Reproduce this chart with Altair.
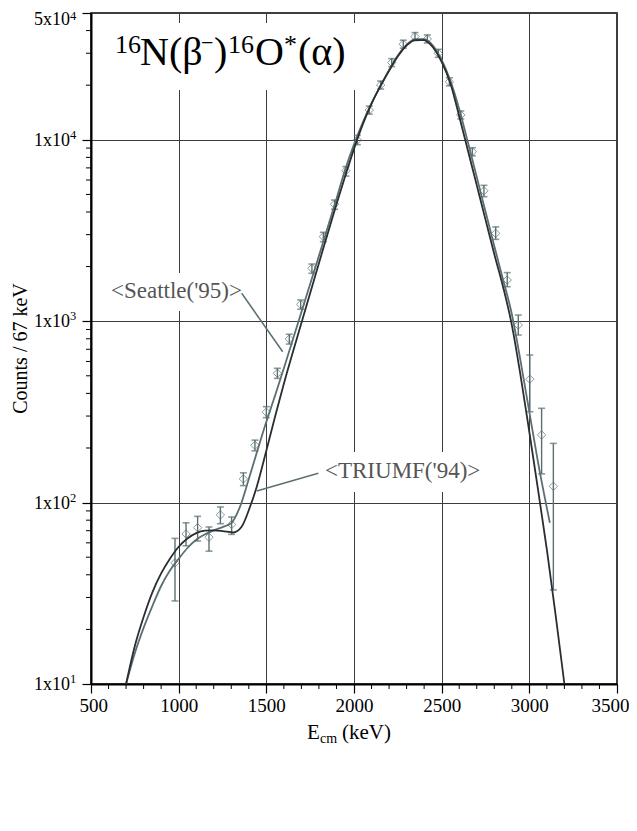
import altair as alt
import pandas as pd

# ---- measured data (16N beta-delayed alpha spectrum) ----
energy = [979, 1042, 1108, 1173, 1238, 1302, 1369, 1435, 1500, 1563, 1631, 1696,
          1760, 1825, 1889, 1954, 2019, 2087, 2152, 2215, 2281, 2348, 2418, 2481,
          2544, 2609, 2675, 2741, 2808, 2874, 2937, 3003, 3070, 3137]
counts = [46.6, 67.2, 72.7, 64.4, 85.5, 75.7, 135, 207, 315, 516, 798, 1239,
          1957, 2926, 4413, 6761, 9977, 14580, 20040, 26650, 33660, 37060, 35970, 29970,
          20880, 13710, 8590, 5236, 3048, 1687, 953, 479, 236, 123]
err_lo = [28.7, 57.8, 61.4, 54, 76.5, 66.8, 124, 193, 294, 484, 748, 1164,
          1836, 2743, 4140, 6310, 9400, 13860, 19050, 25330, 32000, 35230, 34190, 28490,
          19850, 13030, 8160, 4856, 2826, 1549, 839, 317, 144, 33]
err_hi = [63.5, 77.4, 84, 73.4, 94.6, 83.3, 146, 221, 338, 550, 847, 1309,
          2066, 3090, 4656, 7110, 10580, 15340, 21080, 28030, 35410, 39000, 37840, 31530,
          21970, 14420, 9040, 5610, 3311, 1853, 1081, 651, 331, 212]

# ---- R-matrix fits ----
triumf_e = [700, 750, 800, 850, 900, 950, 1000, 1050, 1100, 1150, 1200, 1250, 1311,
            1359, 1407, 1445, 1501, 1550, 1600, 1700, 1800, 1900, 1950, 2000, 2050, 2100,
            2150, 2200, 2250, 2300, 2350, 2400, 2450, 2500, 2550, 2600, 2650, 2700, 2750,
            2800, 2850, 2900, 2950, 3000, 3050, 3100, 3150, 3200]
triumf_c = [10, 16.2, 23.4, 32.0, 40.7, 49.0, 57.1, 63.4, 67.9, 70.0, 70.3, 69.7, 68.4,
            73.6, 94.8, 122, 195, 298, 452, 977, 2089, 4416, 6310, 8913, 12160, 15850,
            19720, 23990, 28840, 33110, 35480, 35480, 32360, 26920, 20420, 13490, 8710, 5623, 3631,
            2344, 1549, 955, 501, 245, 117, 55, 24, 10]
seattle_e = [700, 750, 800, 850, 900, 950, 1000, 1050, 1100, 1150, 1200, 1250, 1300,
             1350, 1400, 1450, 1500, 1550, 1600, 1700, 1800, 1900, 1950, 2000, 2050, 2100,
             2150, 2200, 2250, 2300, 2350, 2400, 2450, 2500, 2550, 2600, 2650, 2700, 2750,
             2800, 2850, 2900, 2950, 3000, 3050, 3117]
seattle_c = [10, 14.8, 20.4, 26.9, 34.7, 42.2, 49.0, 56.2, 62.4, 66.8, 70.3, 73.3, 77.0,
             95.0, 135, 195, 279, 389, 550, 1122, 2291, 4732, 6870, 9441, 12450, 15850,
             19720, 24270, 29170, 33500, 35890, 35890, 33110, 27540, 21130, 14790, 9661, 6237, 4027,
             2600, 1698, 1096, 603, 316, 166, 77.4]

x_ticks = [500, 1000, 1500, 2000, 2500, 3000, 3500]
y_ticks = [10, 100, 1000, 10000]
y_mant = ["1x10", "1x10", "1x10", "1x10"]
y_exp = ["1", "2", "3", "4"]
y_top, y_top_mant, y_top_exp = 50000, "5x10", "4"
x_minor = [v for v in range(600, 3500, 100) if v % 500 != 0]
y_minor = [m * d for d in (10, 100, 1000) for m in range(2, 10)] + [20000, 30000, 40000]

TEAL = "#5b6f72"
DARK = "#2a2e31"
GRID = "#3c3c3c"
FONT = "Liberation Serif"
W, H = 526, 671

pts = pd.DataFrame({"x": energy, "y": counts, "lo": err_lo, "hi": err_hi})
tri = pd.DataFrame({"x": triumf_e, "y": triumf_c})
sea = pd.DataFrame({"x": seattle_e, "y": seattle_c})
ylab = pd.DataFrame({"v": y_ticks, "m": y_mant, "e": y_exp})
ylab_top = pd.DataFrame({"v": [y_top], "m": [y_top_mant], "e": [y_top_exp]})

xs = alt.Scale(domain=[500, 3500], nice=False, zero=False)
ys = alt.Scale(type="log", domain=[10, 50000], nice=False)

x_axis = alt.Axis(values=x_ticks, grid=True, gridColor=GRID, gridWidth=1,
                  tickSize=9, tickColor="black", tickWidth=1.2,
                  domainColor="black", domainWidth=2,
                  labelFlush=True, labelFlushOffset=12,
                  labelFont=FONT, labelFontSize=19, labelColor="black",
                  labelPadding=3, title=None, format="d")
y_axis = alt.Axis(values=y_ticks + [y_top], grid=True, gridColor=GRID, gridWidth=1,
                  tickSize=9, tickColor="black", tickWidth=1.2,
                  domainColor="black", domainWidth=2, labels=False, title=None)

X = lambda f: alt.X(f, type="quantitative", scale=xs, axis=x_axis)
Y = lambda f: alt.Y(f, type="quantitative", scale=ys, axis=y_axis)

one = alt.Data(values=[{}])

tri_line = alt.Chart(tri).mark_line(interpolate="monotone", color=DARK, strokeWidth=1.8).encode(
    x=X("x"), y=Y("y"))
sea_line = alt.Chart(sea).mark_line(interpolate="monotone", color=TEAL, strokeWidth=1.8).encode(
    x=X("x"), y=Y("y"))

bars = alt.Chart(pts).mark_rule(color=TEAL, strokeWidth=1.4).encode(x=X("x"), y=Y("lo"), y2="hi")
cap_hi = alt.Chart(pts).mark_tick(orient="horizontal", color=TEAL, size=7, thickness=1.6).encode(
    x=X("x"), y=Y("hi"))
cap_lo = alt.Chart(pts).mark_tick(orient="horizontal", color=TEAL, size=7, thickness=1.6).encode(
    x=X("x"), y=Y("lo"))
dots = alt.Chart(pts).mark_point(shape="diamond", size=70, filled=False, color=TEAL,
                                 strokeWidth=1).encode(x=X("x"), y=Y("y"))

xminor = alt.Chart(pd.DataFrame({"v": x_minor})).mark_rule(color="black", strokeWidth=1).encode(
    x=X("v"), y=alt.value(H), y2=alt.value(H + 5))
yminor = alt.Chart(pd.DataFrame({"v": y_minor})).mark_rule(color="black", strokeWidth=1).encode(
    y=Y("v"), x=alt.value(-5), x2=alt.value(0))

def ylabels(df, baseline, dy_m, dy_e):
    m = alt.Chart(df).mark_text(align="right", baseline=baseline, font=FONT, fontSize=18,
                                color="black", dy=dy_m).encode(
        x=alt.value(-21), y=Y("v"), text="m:N")
    e = alt.Chart(df).mark_text(align="left", baseline=baseline, font=FONT, fontSize=12.5,
                                color="black", dy=dy_e).encode(
        x=alt.value(-21), y=Y("v"), text="e:N")
    return [m, e]

def box(x0, x1, y0, y1):
    return alt.Chart(one).mark_rect(color="white").encode(
        x=alt.value(x0), x2=alt.value(x1), y=alt.value(y0), y2=alt.value(y1))

def txt(s, x, y, size, color="black", align="left", angle=0, baseline="alphabetic"):
    return alt.Chart(one).mark_text(text=s, font=FONT, fontSize=size, color=color,
                                    align=align, baseline=baseline, angle=angle).encode(
        x=alt.value(x), y=alt.value(y))

def leader(x0, y0, x1, y1):
    return alt.Chart(one).mark_rule(color=TEAL, strokeWidth=1.5).encode(
        x=alt.value(x0), y=alt.value(y0), x2=alt.value(x1), y2=alt.value(y1))

title_parts = [
    txt("16", 24, 40, 26), txt("N(\u03b2", 49, 52, 40), txt("\u2212", 110, 37, 22),
    txt(")", 123, 52, 40), txt("16", 137, 40, 26), txt("O", 164, 52, 40),
    txt("*", 193, 40, 26), txt("(\u03b1)", 207, 52, 40),
]

layers = [
    xminor, yminor,
    box(19, 267, 10, 77), box(17, 155, 260, 298), box(229, 391, 439, 479),
    sea_line, bars, cap_hi, cap_lo, dots,
    tri_line,
    leader(150.7, 280.3, 191.7, 338.7), leader(227.3, 460.3, 165.7, 478),
    *title_parts,
    *ylabels(ylab, "middle", 1, -5),
    *ylabels(ylab_top, "top", -2, -3),
    txt("<Seattle('95)>", 20, 285, 23, color="#555555"),
    txt("<TRIUMF('94)>", 234, 465, 23, color="#555555"),
    txt("Counts / 67 keV", -70, H / 2, 20, align="center", angle=270, baseline="middle"),
    txt("E", 216, 726, 21),
    txt("cm", 229, 730, 14),
    txt("(keV)", 251, 726, 21),
]

chart = alt.layer(*layers).properties(
    width=W, height=H,
    autosize=alt.AutoSizeParams(type="none"),
    padding={"left": 83, "top": 5, "right": 12, "bottom": 90},
).configure_view(stroke="black", strokeWidth=1.5)

chart.save("out.html", embed_options={"renderer": "svg", "actions": False})
